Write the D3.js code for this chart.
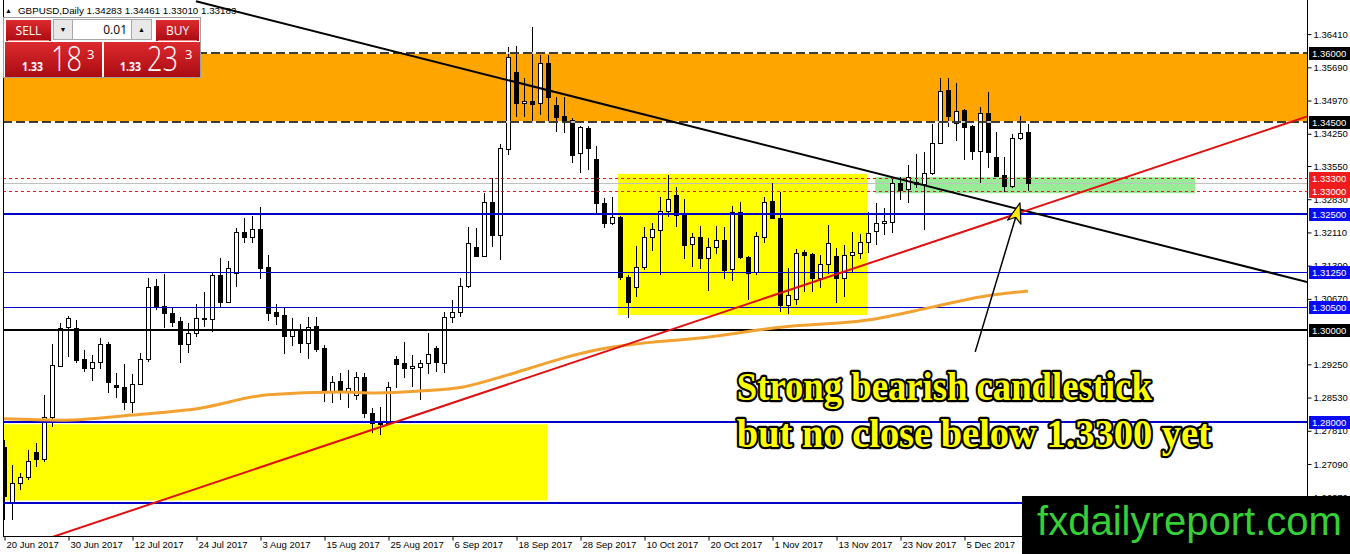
<!DOCTYPE html>
<html><head><meta charset="utf-8">
<script src="https://cdn.jsdelivr.net/npm/d3@7"></script>
<style>
html,body{margin:0;padding:0;background:#fff;overflow:hidden}
svg{display:block}
</style></head><body>
<svg id="c" width="1350" height="554"></svg>
<script>
// ---------------- DATA ----------------
const symbol = "GBPUSD,Daily";
const lastOHLC = [1.34283, 1.34461, 1.33010, 1.33183];
const startDate = "2017-06-20";

const open = [1.2745,1.2627,1.2668,1.2681,1.2735,1.2720,1.2811,1.2921,1.3006,1.3004,
1.2937,1.2917,1.2930,1.2969,1.2880,1.2876,1.2843,1.2882,1.2937,1.3095,
1.3051,1.3036,1.3019,1.2969,1.2993,1.3023,1.3023,1.3119,1.3060,1.3123,
1.3212,1.3201,1.3218,1.3136,1.3038,1.3032,1.2986,1.2999,1.2971,1.3008,
1.2960,1.2865,1.2889,1.2867,1.2859,1.2898,1.2820,1.2800,1.2798,1.2937,
1.2928,1.2917,1.2919,1.2928,1.2960,1.2928,1.3028,1.3038,1.3095,1.3179,
1.3160,1.3277,1.3205,1.3392,1.3559,1.3492,1.3496,1.3492,1.3578,1.3487,
1.3463,1.3455,1.3383,1.3437,1.3370,1.3275,1.3231,1.3244,1.3114,1.3093,
1.3136,1.3201,1.3216,1.3257,1.3292,1.3249,1.3186,1.3201,1.3156,1.3179,
1.3195,1.3132,1.3255,1.3158,1.3125,1.3201,1.3279,1.3242,1.3054,1.3067,
1.3169,1.3164,1.3112,1.3143,1.3160,1.3112,1.3162,1.3166,1.3190,1.3214,
1.3231,1.3234,1.3318,1.3305,1.3320,1.3316,1.3340,1.3405,1.3520,1.3448,
1.3476,1.3442,1.3388,1.3470,1.3375,1.3335,1.3312,1.3416,1.3428];
const high = [1.2760,1.2707,1.2689,1.2739,1.2754,1.2859,1.2969,1.3015,1.3030,1.3021,
1.2956,1.2945,1.2982,1.2973,1.2906,1.2926,1.2904,1.2950,1.3112,1.3110,
1.3121,1.3047,1.3028,1.3015,1.3056,1.3082,1.3123,1.3156,1.3149,1.3221,
1.3242,1.3247,1.3266,1.3162,1.3056,1.3049,1.3025,1.3012,1.3028,1.3028,
1.2967,1.2900,1.2906,1.2913,1.2908,1.2906,1.2830,1.2832,1.2887,1.2943,
1.2973,1.2945,1.2934,1.2993,1.2965,1.3038,1.3064,1.3112,1.3223,1.3221,
1.3296,1.3329,1.3403,1.3613,1.3615,1.3546,1.3656,1.3596,1.3596,1.3505,
1.3505,1.3459,1.3442,1.3442,1.3398,1.3286,1.3288,1.3247,1.3119,1.3182,
1.3223,1.3231,1.3288,1.3335,1.3309,1.3283,1.3210,1.3225,1.3199,1.3225,
1.3223,1.3268,1.3277,1.3160,1.3212,1.3288,1.3318,1.3299,1.3134,1.3175,
1.3173,1.3166,1.3162,1.3227,1.3177,1.3184,1.3212,1.3208,1.3255,1.3275,
1.3264,1.3329,1.3331,1.3357,1.3381,1.3385,1.3446,1.3546,1.3546,1.3535,
1.3479,1.3444,1.3483,1.3515,1.3429,1.3375,1.3424,1.3463,1.3446];
const low = [1.2588,1.2588,1.2653,1.2674,1.2702,1.2713,1.2789,1.2919,1.2941,1.2928,
1.2908,1.2889,1.2915,1.2863,1.2852,1.2826,1.2820,1.2880,1.2930,1.3043,
1.3004,1.3006,1.2928,1.2950,1.2984,1.3006,1.2995,1.3049,1.3058,1.3093,
1.3188,1.3188,1.3110,1.3019,1.3010,1.2947,1.2965,1.2950,1.2937,1.2952,
1.2843,1.2841,1.2848,1.2830,1.2848,1.2809,1.2776,1.2772,1.2793,1.2874,
1.2895,1.2876,1.2848,1.2904,1.2908,1.2906,1.3015,1.3028,1.3091,1.3158,
1.3158,1.3179,1.3151,1.3379,1.3461,1.3461,1.3448,1.3466,1.3448,1.3429,
1.3427,1.3362,1.3340,1.3346,1.3253,1.3221,1.3227,1.3108,1.3025,1.3071,
1.3130,1.3171,1.3119,1.3244,1.3223,1.3153,1.3136,1.3132,1.3084,1.3164,
1.3110,1.3106,1.3153,1.3064,1.3119,1.3188,1.3240,1.3038,1.3034,1.3054,
1.3082,1.3082,1.3091,1.3121,1.3058,1.3071,1.3125,1.3153,1.3166,1.3184,
1.3205,1.3210,1.3281,1.3275,1.3307,1.3216,1.3335,1.3403,1.3440,1.3409,
1.3368,1.3368,1.3318,1.3351,1.3331,1.3299,1.3307,1.3411,1.3301];
const close = [1.2640,1.2668,1.2681,1.2716,1.2720,1.2811,1.2924,1.3004,1.3025,1.2934,
1.2917,1.2930,1.2969,1.2887,1.2876,1.2843,1.2882,1.2937,1.3093,1.3049,
1.3036,1.3017,1.2969,1.2993,1.3025,1.3025,1.3119,1.3060,1.3134,1.3212,
1.3201,1.3218,1.3134,1.3036,1.3030,1.2986,1.2999,1.2971,1.3006,1.2958,
1.2865,1.2887,1.2865,1.2874,1.2898,1.2820,1.2798,1.2795,1.2876,1.2926,
1.2917,1.2921,1.2928,1.2947,1.2930,1.3028,1.3038,1.3095,1.3188,1.3160,
1.3277,1.3205,1.3394,1.3591,1.3492,1.3496,1.3489,1.3578,1.3505,1.3461,
1.3453,1.3379,1.3440,1.3394,1.3275,1.3231,1.3244,1.3114,1.3060,1.3136,
1.3201,1.3218,1.3257,1.3283,1.3249,1.3184,1.3201,1.3156,1.3179,1.3195,
1.3130,1.3255,1.3158,1.3123,1.3203,1.3277,1.3242,1.3054,1.3075,1.3166,
1.3162,1.3112,1.3143,1.3188,1.3112,1.3162,1.3169,1.3190,1.3210,1.3231,
1.3236,1.3318,1.3303,1.3331,1.3316,1.3340,1.3405,1.3518,1.3463,1.3474,
1.3440,1.3388,1.3470,1.3385,1.3333,1.3312,1.3416,1.3427,1.3318];

// moving average read at sample bars
const maBars = [-0.5, 7.4, 16, 24.5, 33, 42, 46.4, 52, 57.4, 61.6, 65.8, 70, 74, 78, 87, 97.4, 108, 116, 122, 128];
const maVals = [1.2807,1.2804,1.2815,1.2830,1.2859,1.2865,1.2863,1.2867,1.2876,1.2895,1.2917,1.2939,1.2956,1.2967,1.2982,1.3006,1.3021,1.3049,1.3071,1.3084];

const xTickLabels = ["20 Jun 2017","30 Jun 2017","12 Jul 2017","24 Jul 2017","3 Aug 2017","15 Aug 2017",
 "25 Aug 2017","6 Sep 2017","18 Sep 2017","28 Sep 2017","10 Oct 2017","20 Oct 2017","1 Nov 2017",
 "13 Nov 2017","23 Nov 2017","5 Dec 2017"];
const yTickValues = [1.36410,1.35690,1.34970,1.34250,1.33550,1.32830,1.32110,1.31390,1.30670,1.29250,1.28530,1.27810,1.27090,1.26370];

// horizontal levels
const levelPrices = [1.36, 1.345, 1.333, 1.33, 1.325, 1.3125, 1.305, 1.30, 1.28, 1.2625];
const levelKinds  = ["zone","zone","red","red","blueB","blue","blue","black","blueB","blueB"];
const bidPrice = 1.33183;

// zones: [barFrom, barTo, priceLow, priceHigh]
const zoneOrange = [-2, 170, 1.3450, 1.3600];
const zoneYellow1 = [-2, 67.9, 1.2630, 1.2795];
const zoneYellow2 = [76.75, 107.9, 1.3032, 1.3338];
const zoneGreen = [108.9, 148.9, 1.3296, 1.3331];

// trend lines: [bar1, price1, bar2, price2]
const trendBlack = [24, 1.3712, 163, 1.3103];
const trendRed = [3, 1.2533, 163, 1.3463];

// annotation arrow: [barFrom, priceFrom, barTo, priceTo]
const arrowPts = [121.4, 1.2952, 127.0, 1.3275];
const noteLines = ["Strong bearish candlestick", "but no close below 1.3300 yet"];
const noteAnchor = [91.6, 1.2848]; // bar, price of first baseline
const brand = "fxdailyreport.com";

// ---------------- CHART ----------------
const svg = d3.select("#c");
const W = 1350, H = 554;
const P = {left:3, right:1307, top:0, bottom:536};

const x = d3.scaleLinear().domain([0, 163]).range([4, 4 + 8*163]);
const y = d3.scaleLinear().domain([1.28, 1.36]).range([422, 53]);

svg.append("rect").attr("width",W).attr("height",H).attr("fill","#fff");
const defs = svg.append("defs");
defs.append("clipPath").attr("id","plotClip").append("rect")
  .attr("x",P.left).attr("y",P.top).attr("width",P.right-P.left).attr("height",P.bottom-P.top);
const rg = defs.append("linearGradient").attr("id","redG").attr("x1",0).attr("y1",0).attr("x2",0).attr("y2",1);
rg.append("stop").attr("offset","0%").attr("stop-color","#dd2a2e");
rg.append("stop").attr("offset","100%").attr("stop-color","#a90c12");

const plot = svg.append("g").attr("clip-path","url(#plotClip)");

function zone(z, fill){
  plot.append("rect")
    .attr("x", x(z[0])).attr("width", x(z[1]) - x(z[0]))
    .attr("y", y(z[3])).attr("height", y(z[2]) - y(z[3]))
    .attr("fill", fill);
}
zone(zoneOrange, "#ffa500");
zone(zoneYellow1, "#ffff00");
zone(zoneYellow2, "#ffff00");
zone(zoneGreen, "#98ec98");

// bid line
plot.append("line").attr("x1",P.left).attr("x2",P.right)
  .attr("y1", Math.round(y(bidPrice))+0.5).attr("y2", Math.round(y(bidPrice))+0.5)
  .attr("stroke","#c0c0c0").attr("stroke-width",1);

// candles
const bars = d3.range(open.length).map(i => ({i, o:open[i], h:high[i], l:low[i], c:close[i]}));
const cg = plot.append("g");
cg.selectAll("line").data(bars).join("line")
  .attr("x1", d => Math.round(x(d.i)) + 0.5).attr("x2", d => Math.round(x(d.i)) + 0.5)
  .attr("y1", d => Math.round(y(d.h))).attr("y2", d => Math.round(y(d.l)))
  .attr("stroke","#000").attr("stroke-width",1);
cg.selectAll("rect").data(bars).join("rect")
  .attr("x", d => Math.round(x(d.i)) - 1.5)
  .attr("width", 4)
  .attr("y", d => Math.round(y(Math.max(d.o,d.c))) + 0.5)
  .attr("height", d => Math.max(1, Math.round(y(Math.min(d.o,d.c))) - Math.round(y(Math.max(d.o,d.c)))))
  .attr("fill", d => d.c >= d.o ? "#fff" : "#000")
  .attr("stroke","#000").attr("stroke-width",1);

// horizontal level lines
const lvStyle = {
  zone:  {c:"#000", w:1.5, dash:"9,4", under:"#fff"},
  red:   {c:"#e01b1b", w:1, dash:"3,3"},
  blueB: {c:"#0000c8", w:2},
  blue:  {c:"#0000c8", w:1},
  black: {c:"#000", w:2}
};
levelPrices.forEach((p,k) => {
  const s = lvStyle[levelKinds[k]];
  const yy = s.w === 1 ? Math.round(y(p)) + 0.5 : Math.round(y(p));
  if (s.under) plot.append("line").attr("x1",P.left).attr("x2",P.right).attr("y1",yy).attr("y2",yy)
      .attr("stroke",s.under).attr("stroke-width",s.w);
  plot.append("line").attr("x1",P.left).attr("x2",P.right).attr("y1",yy).attr("y2",yy)
    .attr("stroke",s.c).attr("stroke-width",s.w).attr("stroke-dasharray", s.dash || null);
});

// moving average
plot.append("path")
  .datum(d3.zip(maBars, maVals))
  .attr("d", d3.line().x(d => x(d[0])).y(d => y(d[1])).curve(d3.curveMonotoneX))
  .attr("fill","none").attr("stroke","#f2a230").attr("stroke-width",3);

// trend lines
function tline(t, color, w){
  plot.append("line").attr("x1", x(t[0])).attr("y1", y(t[1])).attr("x2", x(t[2])).attr("y2", y(t[3]))
    .attr("stroke", color).attr("stroke-width", w);
}
tline(trendBlack, "#000", 2);
tline(trendRed, "#e01010", 2);

// annotation arrow
{
  const x1 = x(arrowPts[0]), y1 = y(arrowPts[1]), x2 = x(arrowPts[2]), y2 = y(arrowPts[3]);
  const ang = Math.atan2(y2-y1, x2-x1);
  plot.append("line").attr("x1",x1).attr("y1",y1).attr("x2",x2 - Math.cos(ang)*4).attr("y2",y2 - Math.sin(ang)*4)
    .attr("stroke","#000").attr("stroke-width",1.5);
  const L = 20, Wd = 7;
  const bx = x2 - Math.cos(ang)*L, by = y2 - Math.sin(ang)*L;
  const px = -Math.sin(ang), py = Math.cos(ang);
  plot.append("path")
    .attr("d", `M${x2},${y2} L${bx+px*Wd},${by+py*Wd} L${bx + Math.cos(ang)*5},${by + Math.sin(ang)*5} L${bx-px*Wd},${by-py*Wd} Z`)
    .attr("fill","#ffee00").attr("stroke","#000").attr("stroke-width",1.2).attr("stroke-linejoin","round");
}

// note text
const noteLens = [415, 474];
noteLines.forEach((t,k) => {
  svg.append("text")
    .attr("x", x(noteAnchor[0])).attr("y", y(noteAnchor[1]) + k*47)
    .attr("font-family","'Liberation Serif','DejaVu Serif',serif")
    .attr("font-weight","bold").attr("font-size",40)
    .attr("textLength", noteLens[k]).attr("lengthAdjust","spacingAndGlyphs")
    .attr("fill","#ffff00").attr("stroke","#000").attr("stroke-width",4.5)
    .attr("stroke-linejoin","round").attr("paint-order","stroke")
    .text(t);
});

// frame
svg.append("line").attr("x1",P.left+0.5).attr("x2",P.left+0.5).attr("y1",0).attr("y2",P.bottom).attr("stroke","#000");
svg.append("line").attr("x1",P.right+0.5).attr("x2",P.right+0.5).attr("y1",0).attr("y2",P.bottom+1).attr("stroke","#000");
svg.append("line").attr("x1",P.left).attr("x2",P.right+1).attr("y1",P.bottom+0.5).attr("y2",P.bottom+0.5).attr("stroke","#000");

// right axis
const axFont = "'Liberation Sans','Arial',sans-serif";
const gR = svg.append("g").attr("transform",`translate(${P.right+0.5},0)`)
  .call(d3.axisRight(y).tickValues(yTickValues).tickFormat(d3.format(".5f")).tickSize(4).tickPadding(2));
gR.select(".domain").remove();
gR.selectAll("text").attr("font-family",axFont).attr("font-size",9.5).attr("fill","#000");
gR.selectAll("line").attr("stroke","#000");

// bottom axis
const parse = d3.timeParse("%Y-%m-%d");
const fmt = d3.timeFormat("%-d %b %Y");
const dates = [];
for (let d = parse(startDate); dates.length < open.length; d = d3.timeDay.offset(d,1)) {
  const wd = d.getDay(); if (wd !== 0 && wd !== 6) dates.push(d);
}
const tickIdx = xTickLabels.map(l => dates.findIndex(t => fmt(t) === l));
const gB = svg.append("g").attr("transform",`translate(0,${P.bottom+0.5})`)
  .call(d3.axisBottom(x).tickValues(tickIdx).tickFormat((d,i) => xTickLabels[i]).tickSize(4).tickPadding(1));
gB.select(".domain").remove();
gB.selectAll(".tick line").attr("transform","translate(0.5,0)").attr("stroke","#000");
gB.selectAll("text").attr("text-anchor","start").attr("dx",2).attr("font-family",axFont).attr("font-size",9.5).attr("fill","#000");

// price label boxes
const boxColor = {zone:"#000", red:"#ee1c1c", blueB:"#0a0af5", blue:"#0a0af5", black:"#000"};
function priceBox(p, fill, tcol){
  const yy = Math.round(y(p));
  svg.append("rect").attr("x",P.right+2).attr("y",yy-6).attr("width",W-P.right-2).attr("height",13).attr("fill",fill);
  svg.append("text").attr("x",P.right+5).attr("y",yy+4).attr("font-family",axFont).attr("font-size",9.5)
    .attr("fill",tcol).text(d3.format(".5f")(p));
}
priceBox(bidPrice, "#c8c8c8", "#fff");
levelPrices.forEach((p,k) => priceBox(p, boxColor[levelKinds[k]], "#fff"));

// header
svg.append("text").attr("x",5).attr("y",13).attr("font-size",7).attr("font-family",axFont).text("▲");
svg.append("text").attr("x",18).attr("y",14).attr("font-family",axFont).attr("font-size",9.8).attr("fill","#000")
  .text(symbol + "  " + lastOHLC.map(d3.format(".5f")).join(" "));

// trading panel
const ui = svg.append("g").attr("font-family","'Open Sans','Liberation Sans',sans-serif");
ui.append("rect").attr("x",3.5).attr("y",17.5).attr("width",197).attr("height",60).attr("fill","#fff").attr("stroke","#a0a0a0");
function btn(x0,w,label){
  ui.append("rect").attr("x",x0).attr("y",20).attr("width",w).attr("height",21).attr("fill","url(#redG)");
  ui.append("line").attr("x1",x0+2).attr("x2",x0+w-2).attr("y1",40.5).attr("y2",40.5).attr("stroke","#f08080");
  ui.append("text").attr("x",x0+w/2).attr("y",35).attr("text-anchor","middle").attr("fill","#fff").attr("font-size",12).text(label);
}
btn(6,45,"SELL"); btn(156,43,"BUY");
ui.append("rect").attr("x",53.5).attr("y",19.5).attr("width",19).attr("height",20).attr("fill","#e8e8e8").attr("stroke","#a8a8a8");
ui.append("text").attr("x",63).attr("y",32).attr("text-anchor","middle").attr("font-size",7).text("▼");
ui.append("rect").attr("x",72.5).attr("y",19.5).attr("width",59).attr("height",20).attr("fill","#fff").attr("stroke","#a8a8a8");
ui.append("text").attr("x",127).attr("y",34).attr("text-anchor","end").attr("font-size",12).text("0.01");
ui.append("rect").attr("x",131.5).attr("y",19.5).attr("width",20).attr("height",20).attr("fill","#e8e8e8").attr("stroke","#a8a8a8");
ui.append("text").attr("x",141.5).attr("y",32).attr("text-anchor","middle").attr("font-size",7).text("▲");
function bigBox(x0,w,preX,bigX,supX,pre,big,sup){
  ui.append("rect").attr("x",x0).attr("y",42).attr("width",w).attr("height",35).attr("fill","url(#redG)");
  ui.append("text").attr("x",preX).attr("y",71).attr("fill","#fff").attr("font-size",12.5).attr("font-weight","bold")
    .attr("textLength",21).attr("lengthAdjust","spacingAndGlyphs").text(pre);
  ui.append("text").attr("x",bigX).attr("y",71).attr("fill","#fff").attr("font-size",35).attr("font-weight",300)
    .attr("textLength",31).attr("lengthAdjust","spacingAndGlyphs").text(big);
  ui.append("text").attr("x",supX).attr("y",59).attr("fill","#fff").attr("font-size",13).text(sup);
}
bigBox(5,97,22,51,87,"1.33","18","3");
bigBox(104,96,120,147,185,"1.33","23","3");

// brand box
svg.append("rect").attr("x",1022).attr("y",496).attr("width",W-1022).attr("height",H-496).attr("fill","#000");
svg.append("text").attr("x",1037).attr("y",535).attr("font-family","'Liberation Sans','Arial',sans-serif")
  .attr("font-size",40).attr("fill","#36cf36").attr("textLength",305).attr("lengthAdjust","spacingAndGlyphs").text(brand);
</script>
</body></html>
